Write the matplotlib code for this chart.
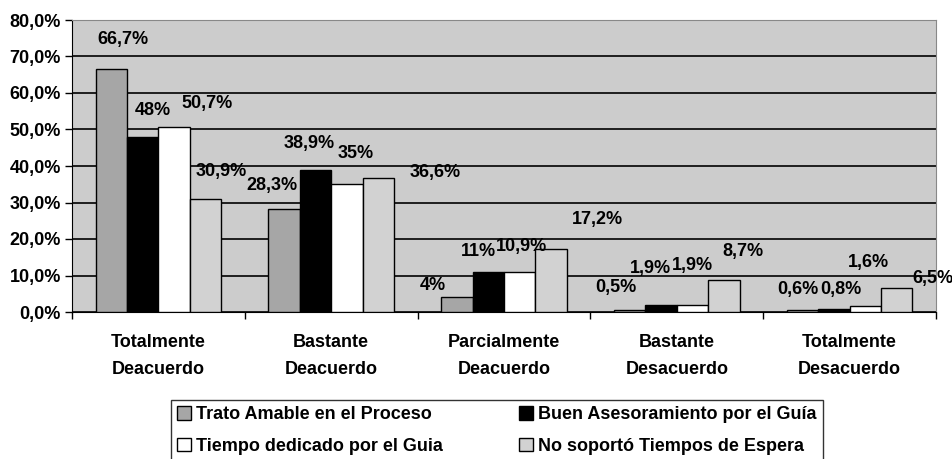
import numpy as np
import matplotlib
matplotlib.use("Agg")
import matplotlib.pyplot as plt
from matplotlib.ticker import FuncFormatter

# --- data ---
categories = ["Totalmente\nDeacuerdo", "Bastante\nDeacuerdo", "Parcialmente\nDeacuerdo",
              "Bastante\nDesacuerdo", "Totalmente\nDesacuerdo"]
series_names = ["Trato Amable en el Proceso", "Buen Asesoramiento por el Guía",
                "Tiempo dedicado por el Guia", "No soportó Tiempos de Espera"]
trato = [66.7, 28.3, 4.0, 0.5, 0.6]
asesoramiento = [48.0, 38.9, 11.0, 1.9, 0.8]
tiempo = [50.7, 35.0, 10.9, 1.9, 1.6]
espera = [30.9, 36.6, 17.2, 8.7, 6.5]
value_labels = [
    ["66,7%", "28,3%", "4%", "0,5%", "0,6%"],
    ["48%", "38,9%", "11%", "1,9%", "0,8%"],
    ["50,7%", "35%", "10,9%", "1,9%", "1,6%"],
    ["30,9%", "36,6%", "17,2%", "8,7%", "6,5%"],
]

# label offsets (pixels, from bar top centre) - the original labels sit oddly
label_offsets = [
    [(12, 21), (-12, 15), (-24, 3), (-14, 14), (-5, 12)],
    [(10, 18), (-6, 18), (-10, 12), (-11, 28), (7, 11)],
    [(33, 15), (9, 22), (2, 17), (0, 31), (3, 35)],
    [(16, 19), (57, -3), (46, 21), (19, 20), (36, 1)],
]

colors = ["#A6A6A6", "#000000", "#FFFFFF", "#D2D2D2"]
FONT = "Liberation Sans"

fig = plt.figure(figsize=(9.52, 4.59), dpi=100)
ax = fig.add_axes([72 / 952, 1 - 312 / 459, (936 - 72) / 952, (312 - 20) / 459])
ax.set_facecolor("#CCCCCC")

x = np.arange(len(categories))
w = 0.182
all_series = [trato, asesoramiento, tiempo, espera]

ax.set_ylim(0, 80)
ax.set_xlim(-0.5, len(categories) - 0.5)
ax.set_yticks(np.arange(0, 81, 10))
ax.yaxis.grid(True, color="black", linewidth=1.2)
ax.set_axisbelow(True)

handles = []
for i, vals in enumerate(all_series):
    pos = x + (i - 1.5) * w
    b = ax.bar(pos, vals, width=w, color=colors[i], edgecolor="black", linewidth=1.0,
               label=series_names[i], zorder=3)
    handles.append(b)
    for j, v in enumerate(vals):
        dx, dy = label_offsets[i][j]
        ax.annotate(value_labels[i][j], (pos[j], v), xytext=(dx, dy),
                    textcoords="offset pixels", ha="center", va="bottom",
                    fontsize=13, fontweight="bold", family=FONT, zorder=5,
                    annotation_clip=False)

ax.yaxis.set_major_formatter(FuncFormatter(lambda v, p: f"{v:.1f}%".replace(".", ",")))
for lab in ax.get_yticklabels():
    lab.set_fontweight("bold")
    lab.set_family(FONT)
    lab.set_fontsize(13)
ax.tick_params(axis="y", length=5, width=1, color="black", pad=3)

ax.set_xticks(x)
ax.set_xticklabels(categories, fontsize=13, fontweight="bold", family=FONT,
                   linespacing=1.75)
ax.tick_params(axis="x", which="major", length=0, pad=16)
ax.set_xticks(np.arange(-0.5, len(categories), 1), minor=True)
ax.tick_params(axis="x", which="minor", length=5, width=1, color="black")

ax.spines["left"].set_color("black")
ax.spines["bottom"].set_color("black")
ax.spines["top"].set_color("#888888")
ax.spines["right"].set_color("#888888")

# legend filled row by row, like the original
order = [0, 2, 1, 3]
leg = fig.legend([handles[k] for k in order], [series_names[k] for k in order],
                 loc="upper left", bbox_to_anchor=(162 / 952, 1 - 391 / 459),
                 ncol=2, frameon=True, fancybox=False, edgecolor="black",
                 prop={"family": FONT, "weight": "bold", "size": 13},
                 handlelength=0.75, handleheight=0.75, handletextpad=0.3,
                 columnspacing=4.2, borderpad=0.35, labelspacing=0.8)
leg.get_frame().set_linewidth(1.0)

fig.savefig("out.png", dpi=100, facecolor="white")
